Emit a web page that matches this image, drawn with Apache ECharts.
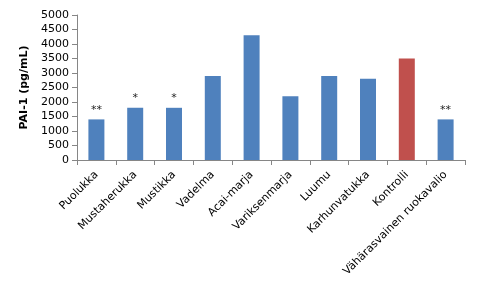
<!DOCTYPE html>
<html><head><meta charset="utf-8">
<script src="https://cdn.jsdelivr.net/npm/echarts@6/dist/echarts.min.js"></script>
<style>html,body{margin:0;padding:0;background:#fff}#c{width:486px;height:288px}</style>
</head><body><div id="c"></div>
<script>
var categories = ['Puolukka','Mustaherukka','Mustikka','Vadelma','Acai-marja','Variksenmarja','Luumu','Karhunvatukka','Kontrolli','Vähärasvainen ruokavalio'];
var values = [1400,1800,1800,2900,4300,2200,2900,2800,3500,1400];
var significance = ['**','*','*','','','','','','','**'];
var barColors = ['#4F81BD','#4F81BD','#4F81BD','#4F81BD','#4F81BD','#4F81BD','#4F81BD','#4F81BD','#C0504D','#4F81BD'];
var yTicks = {min:0, max:5000, interval:500};

var font = 'DejaVu Sans';
var chart = echarts.init(document.getElementById('c'), null, {renderer:'canvas'});
chart.setOption({
  animation:false,
  grid:{left:77, right:21, top:15, bottom:128},
  xAxis:{
    type:'category', data:categories,
    axisLine:{lineStyle:{color:'#868686', width:1}},
    axisTick:{show:true, length:5, alignWithLabel:false, lineStyle:{color:'#868686'}},
    axisLabel:{rotate:45, interval:0, fontFamily:font, fontSize:11, color:'#000', margin:13}
  },
  yAxis:{
    type:'value', min:yTicks.min, max:yTicks.max, interval:yTicks.interval,
    name:'PAI-1 (pg/mL)', nameLocation:'middle', nameGap:41,
    nameTextStyle:{fontFamily:font, fontSize:11, fontWeight:'bold', color:'#000'},
    axisLine:{show:true, lineStyle:{color:'#868686', width:1}},
    axisTick:{show:true, length:5, lineStyle:{color:'#868686'}},
    axisLabel:{fontFamily:font, fontSize:11, color:'#000', margin:8,
      formatter:function(v){return String(v);}},
    splitLine:{show:false}
  },
  series:[{
    type:'bar',
    data:values.map(function(v,i){return {value:v, itemStyle:{color:barColors[i]}};}),
    barWidth:16,
    label:{show:true, position:'top', distance:4, fontFamily:font, fontSize:11, color:'#222',
      formatter:function(p){return significance[p.dataIndex];}}
  }]
});
</script></body></html>
